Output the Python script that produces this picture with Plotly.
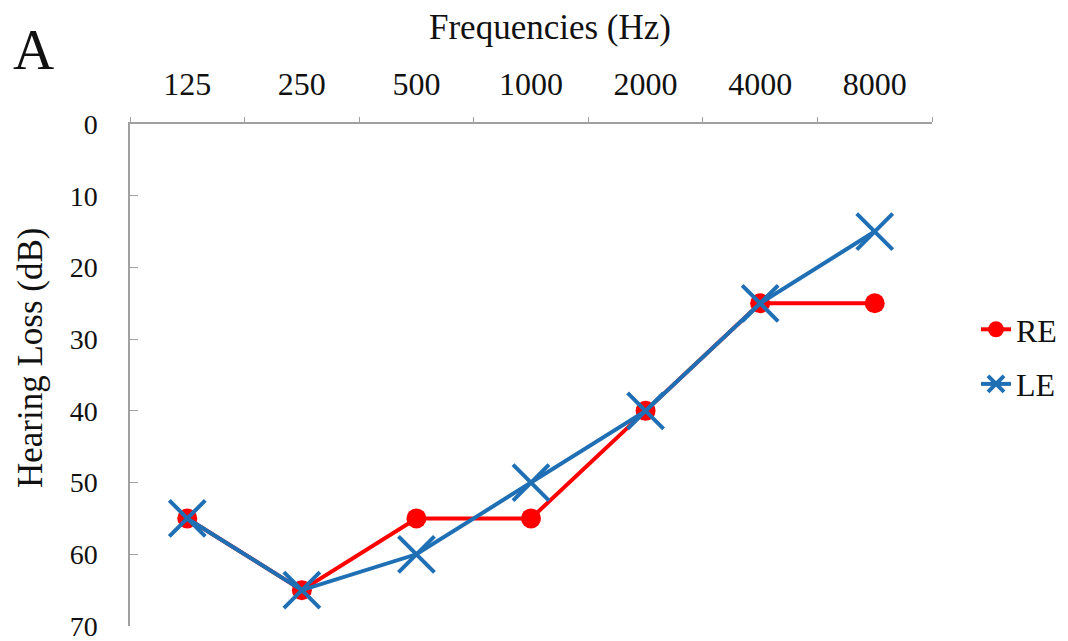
import plotly.graph_objects as go

frequencies = ["125", "250", "500", "1000", "2000", "4000", "8000"]
right_ear = [55, 65, 55, 55, 40, 25, 25]
left_ear = [55, 65, 60, 50, 40, 25, 15]
y_ticks = [0, 10, 20, 30, 40, 50, 60, 70]

FONT = "Liberation Serif"
TXT = "#111111"
AXIS = "#a0a0a0"

fig = go.Figure()
fig.add_trace(go.Scatter(
    x=frequencies, y=right_ear, name="RE", mode="lines+markers",
    line=dict(color="#ff0000", width=4),
    marker=dict(symbol="circle", size=20, color="#ff0000"),
    legendgroup="re",
))
fig.add_trace(go.Scatter(
    x=frequencies, y=left_ear, name="LE", mode="lines+markers",
    line=dict(color="#1f6fb5", width=4),
    marker=dict(symbol="x-thin", size=36, line=dict(color="#1f6fb5", width=4)),
    legendgroup="le",
))

L, R, T, B = 130, 136, 124, 15
W, H = 1068, 641
pw = W - L - R
ph = H - T - B


def px(x):
    return (x - L) / pw


def py(y):
    return 1 - (y - T) / ph


fig.update_layout(
    width=W, height=H,
    margin=dict(l=L, r=R, t=T, b=B, autoexpand=False),
    paper_bgcolor="white", plot_bgcolor="white",
    font=dict(family=FONT, color=TXT),
    showlegend=True,
    legend=dict(x=px(976), y=py(357), xanchor="left", yanchor="middle",
                font=dict(family=FONT, size=32, color=TXT),
                tracegroupgap=10, bgcolor="rgba(0,0,0,0)"),
    xaxis=dict(
        type="category", side="top", showgrid=False, zeroline=False,
        showline=True, linecolor=AXIS, linewidth=1.5,
        ticks="outside", ticklen=5, tickcolor=AXIS, tickson="boundaries",
        tickfont=dict(family=FONT, size=32, color=TXT),
        ticklabelstandoff=14,
        range=[-0.5, 6.5],
    ),
    yaxis=dict(
        range=[70, 0], tickvals=y_ticks, showgrid=False, zeroline=False,
        showline=True, linecolor=AXIS, linewidth=1.5,
        ticks="inside", ticklen=8, tickcolor=AXIS,
        tickfont=dict(family=FONT, size=28, color=TXT),
        ticklabelstandoff=25, ticklabeloverflow="allow",
    ),
    annotations=[
        dict(text="Frequencies (Hz)", x=px(550), y=py(28), xref="paper", yref="paper",
             xanchor="center", yanchor="middle",
             showarrow=False, font=dict(family=FONT, size=35, color=TXT)),
        dict(text="A", x=px(33), y=py(50), xref="paper", yref="paper",
             xanchor="center", yanchor="middle",
             showarrow=False, font=dict(family=FONT, size=57, color=TXT)),
        dict(text="Hearing Loss (dB)", x=px(30), y=py(358), xref="paper", yref="paper",
             xanchor="center", yanchor="middle",
             showarrow=False, textangle=-90, font=dict(family=FONT, size=35, color=TXT)),
    ],
)

fig.write_html("out.html", post_script="document.body.style.margin='0px';",
               config={"displayModeBar": False})
